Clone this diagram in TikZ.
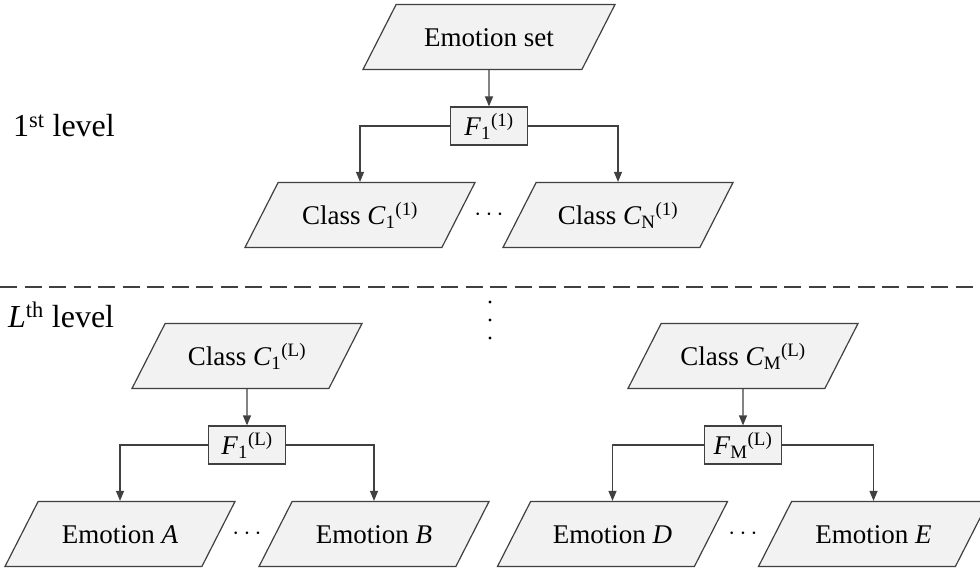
\documentclass[tikz,border=0pt]{standalone}
\usepackage{fontspec}
\setmainfont{Liberation Serif}
\usetikzlibrary{shapes.geometric,arrows.meta,calc}
\definecolor{linegray}{HTML}{404040}
\definecolor{boxfill}{HTML}{F2F2F2}
\newcommand{\symb}[3]{\textit{#1}\textsubscript{#2}\textsuperscript{#3}}

\begin{document}
\begin{tikzpicture}
[x=1pt,y=-1pt,
level 1/.style={level distance=89pt},
level 2/.style={sibling distance=258pt, level distance=89pt,
    edge from parent path={(\tikzparentnode) -| (\tikzchildnode.north)}},
edge from parent/.style={draw=linegray,line width=1.2pt,-{Triangle[length=10pt,width=8pt]}},
para/.style={trapezium,trapezium left angle=63,trapezium right angle=117,
    trapezium stretches body,draw=linegray,fill=boxfill,line width=1.2pt,
    minimum width=230pt,text height=24pt,text depth=5pt,inner ysep=18pt,inner xsep=0pt},
funcbox/.style={rectangle,draw=linegray,fill=boxfill,line width=1.2pt,
    minimum width=77pt,text height=24pt,text depth=5pt,inner ysep=4.5pt,inner xsep=2pt},
levellabel/.style={anchor=base west,inner sep=0pt,font=\fontsize{32}{38}\selectfont},
sepline/.style={draw=linegray,line width=1.2pt,dash pattern=on 17pt off 7.5pt}
]
\tikzset{every node/.style={font=\fontsize{27}{32}\selectfont}}
\useasboundingbox (0,0) rectangle (980,569);

% 1st level
\node[para,minimum width=252pt] (emoset) at (489,37) {Emotion set}
    child {
        node[funcbox] (f11) {\symb{F}{1}{(1)}}
        child {
            node[para] (c11) {Class \symb{C}{1}{(1)}}
        }
        child {
            node[para] (c1n) {Class \symb{C}{N}{(1)}}
        }
    };
\node (dotsa) at ($(c11)!0.5!(c1n)$) {$\cdots$};

\path[sepline] (0,287) -- (980,287);

% L-th level
\begin{scope}[level 2/.append style={sibling distance=254pt}]
\node[para] (c1l) at (247,356) {Class \symb{C}{1}{(L)}}
    child {
        node[funcbox] (f1l) {\symb{F}{1}{(L)}}
        child {
            node[para] (emoa) {Emotion \textit{A}}
        }
        child {
            node[para] (emob) {Emotion \textit{B}}
        }
    };
\end{scope}
\node (dotsb) at ($(emoa)!0.5!(emob)$) {$\cdots$};

\begin{scope}[level 2/.append style={sibling distance=261pt}]
\node[para] (cml) at (743,356) {Class \symb{C}{M}{(L)}}
    child {
        node[funcbox] (fml) {\symb{F}{M}{(L)}}
        child {
            node[para] (emod) {Emotion \textit{D}}
        }
        child {
            node[para] (emoe) {Emotion \textit{E}}
        }
    };
\end{scope}
\node (dotsc) at ($(emod)!0.5!(emoe)$) {$\cdots$};

\foreach \y in {302,320,338}
    \fill[black] (490,\y) circle (1.6pt);

\node[levellabel] (lvlone) at (13,137) {1\textsuperscript{st} level};
\node[levellabel] (lvlL) at (8,327) {\textit{L}\textsuperscript{th} level};
\end{tikzpicture}
\end{document}
